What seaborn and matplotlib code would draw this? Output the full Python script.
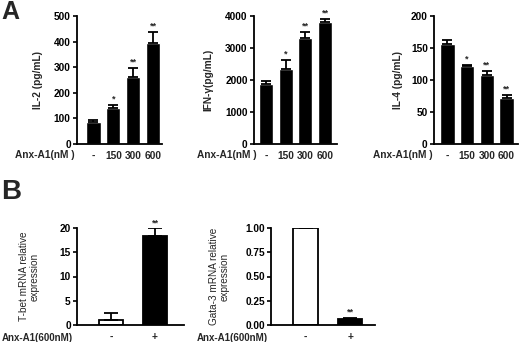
import numpy as np
import pandas as pd
import seaborn as sns
import matplotlib.pyplot as plt

# panel A: cytokines vs Anx-A1 dose
dose = ["-", "150", "300", "600"]
il2 = [85, 139, 262, 393]
il2_err = [7, 12, 34, 44]
ifng = [1885, 2354, 3323, 3802]
ifng_err = [94, 261, 167, 94]
il4 = [157, 122, 108, 72]
il4_err = [5, 2, 6, 4]
a_stars = ["", "*", "**", "**"]

# panel B: mRNA relative expression
treat = ["-", "+"]
tbet = [1.03, 18.4]
tbet_err = [1.37, 1.5]
gata3 = [1.0, 0.065]
gata3_err = [0.01, 0.01]
b_stars = ["", "**"]

W, H = 520, 342
sns.set_style("ticks")
plt.rcParams["font.family"] = ["Liberation Sans", "DejaVu Sans"]
fig = plt.figure(figsize=(W / 100, H / 100), dpi=100)

FS = 7.3


def rect(x0, x1, y0, y1):
    return [x0 / W, 1 - y1 / H, (x1 - x0) / W, (y1 - y0) / H]


def style(ax, ylim, yticks, fmt):
    ax.set_ylim(*ylim)
    ax.set_yticks(yticks)
    ax.set_yticklabels([fmt.format(t) for t in yticks], fontsize=FS, fontweight="bold")
    for s in ["top", "right"]:
        ax.spines[s].set_visible(False)
    for s in ["left", "bottom"]:
        ax.spines[s].set_linewidth(1.3)
        ax.spines[s].set_color("black")
    ax.tick_params(axis="y", length=3, width=1.2, pad=1.5, colors="black")
    ax.tick_params(axis="x", length=0, pad=5)
    ax.set_xlabel("")


def panel_a(box, vals, errs, xlim, ylim, yticks, ylabel, ylab_px):
    ax = fig.add_axes(rect(*box))
    df = pd.DataFrame({"dose": dose, "val": vals})
    sns.barplot(data=df, x="dose", y="val", order=dose, color="black",
                width=0.72, errorbar=None, saturation=1, ax=ax)
    ax.errorbar(range(len(vals)), vals, yerr=[np.zeros(len(vals)), errs],
                fmt="none", ecolor="black", elinewidth=1.3, capsize=3.5, capthick=1.3)
    for i, s in enumerate(a_stars):
        if s:
            ax.annotate(s, (i, vals[i] + errs[i]), xytext=(0, 1), textcoords="offset points",
                        ha="center", va="bottom", fontsize=6.5, fontweight="bold")
    ax.set_xlim(*xlim)
    style(ax, ylim, yticks, "{:d}")
    ax.set_xticks(range(len(dose)))
    ax.set_xticklabels(dose, fontsize=FS, fontweight="bold")
    ax.set_ylabel(ylabel, fontsize=FS, fontweight="bold")
    ax.yaxis.set_label_coords(-ylab_px / (box[1] - box[0]), 0.5)
    return ax


def panel_b(box, vals, errs, xlim, ylim, yticks, fmt, ylabel, ylab_px):
    ax = fig.add_axes(rect(*box))
    df = pd.DataFrame({"treat": treat, "val": vals})
    sns.barplot(data=df, x="treat", y="val", order=treat, hue="treat",
                palette=["white", "black"], edgecolor="black", linewidth=1.3,
                width=0.55, errorbar=None, saturation=1, legend=False, ax=ax)
    ax.errorbar(range(len(vals)), vals, yerr=[np.zeros(len(vals)), errs],
                fmt="none", ecolor="black", elinewidth=1.3, capsize=5, capthick=1.3)
    for i, s in enumerate(b_stars):
        if s:
            ax.annotate(s, (i, vals[i] + errs[i]), xytext=(0, 1), textcoords="offset points",
                        ha="center", va="bottom", fontsize=6.5, fontweight="bold")
    ax.set_xlim(*xlim)
    style(ax, ylim, yticks, fmt)
    ax.set_xticks(range(len(treat)))
    ax.set_xticklabels(treat, fontsize=FS, fontweight="bold")
    ax.set_ylabel(ylabel, fontsize=7.2, linespacing=1.1)
    ax.yaxis.set_label_coords(-ylab_px / (box[1] - box[0]), 0.5)
    return ax


panel_a((77, 162, 16, 144), il2, il2_err, (-0.83, 3.45), (0, 500),
        [0, 100, 200, 300, 400, 500], "IL-2 (pg/mL)", 34)
panel_a((254, 337, 16, 144), ifng, ifng_err, (-0.6, 3.6), (0, 4000),
        [0, 1000, 2000, 3000, 4000], "IFN-γ(pg/mL)", 41)
panel_a((434, 518, 16, 144), il4, il4_err, (-0.68, 3.58), (0, 200),
        [0, 50, 100, 150, 200], "IL-4 (pg/mL)", 31)

panel_b((77, 184, 228, 325), tbet, tbet_err, (-0.77, 1.66), (0, 20),
        [0, 5, 10, 15, 20], "{:d}", "T-bet mRNA relative\nexpression", 37)
panel_b((271, 375, 228, 325), gata3, gata3_err, (-0.78, 1.56), (0, 1.0),
        [0, 0.25, 0.5, 0.75, 1.0], "{:.2f}", "Gata-3 mRNA relative\nexpression", 41)

# row labels
for x in [15, 197, 373]:
    fig.text(x / W, 1 - 155 / H, "Anx-A1(nM )", fontsize=FS, fontweight="bold",
             ha="left", va="center")
for x in [2, 197]:
    fig.text(x / W, 1 - 338 / H, "Anx-A1(600nM)", fontsize=7, fontweight="bold",
             ha="left", va="center")

fig.text(1 / W, 1 - 12 / H, "A", fontsize=18, fontweight="bold", ha="left", va="center")
fig.text(1 / W, 1 - 192 / H, "B", fontsize=20, fontweight="bold", ha="left", va="center")

fig.savefig("out.png", dpi=100, facecolor="white")
